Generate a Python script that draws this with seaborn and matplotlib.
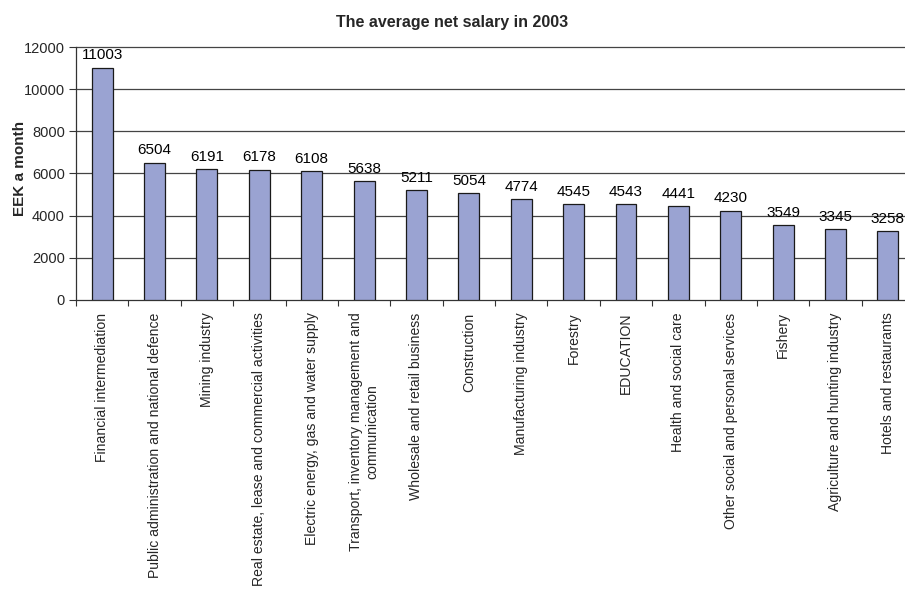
import matplotlib
matplotlib.use("Agg")
import matplotlib.pyplot as plt
import seaborn as sns
import pandas as pd
import numpy as np

categories = [
    "Financial intermediation",
    "Public administration and national defence",
    "Mining industry",
    "Real estate, lease and commercial activities",
    "Electric energy, gas and water supply",
    "Transport, inventory management and\ncommunication",
    "Wholesale and retail business",
    "Construction",
    "Manufacturing industry",
    "Forestry",
    "EDUCATION",
    "Health and social care",
    "Other social and personal services",
    "Fishery",
    "Agriculture and hunting industry",
    "Hotels and restaurants",
]
values = [11003, 6504, 6191, 6178, 6108, 5638, 5211, 5054, 4774, 4545, 4543, 4441, 4230, 3549, 3345, 3258]
yticks = [0, 2000, 4000, 6000, 8000, 10000, 12000]

sns.set_theme(style="white")
plt.rcParams['font.family'] = ['Liberation Sans', 'DejaVu Sans']

df = pd.DataFrame({"cat": categories, "val": values})

fig = plt.figure(figsize=(9.05, 5.95), dpi=100)
ax = fig.add_axes([0.084, 0.496, 0.926, 0.425])

sns.barplot(data=df, x="cat", y="val", color="#9AA3D2", width=0.40,
            edgecolor="#1a1a1a", linewidth=0.9, saturation=1, ax=ax, zorder=3)

ax.set_ylim(0, 12000)
ax.set_xlim(-0.5, len(categories) - 0.5)
ax.set_yticks(yticks)
ax.set_yticklabels([str(t) for t in yticks], fontsize=10.5)
for t in yticks[1:]:
    ax.axhline(t, color="#444444", linewidth=0.9, zorder=1, clip_on=False)

for c in ax.containers:
    ax.bar_label(c, labels=[str(v) for v in values], padding=4, fontsize=11, color="black")

ax.set_xticks(range(len(categories)))
ax.set_xticklabels(categories, rotation=90, fontsize=10.1, va="top", ha="center", multialignment="center")
ax.set_xticks(np.arange(-0.5, len(categories), 1), minor=True)
ax.tick_params(axis="x", which="major", length=0, pad=9)
ax.tick_params(axis="x", which="minor", length=4, direction="out", color="#333333", width=0.8, bottom=True)
ax.tick_params(axis="y", length=5, direction="out", color="#333333", width=0.8, left=True, pad=3)

for s in ["top", "right"]:
    ax.spines[s].set_visible(False)
for s in ["left", "bottom"]:
    ax.spines[s].set_color("#333333")
    ax.spines[s].set_linewidth(0.9)

ax.set_xlabel("")
ax.set_ylabel("EEK a month", fontsize=11, fontweight="bold")
ax.yaxis.set_label_coords(-0.058, 0.52)
fig.suptitle("The average net salary in 2003", fontsize=11.5, fontweight="bold", y=0.975, x=0.5)

fig.savefig("out.png", dpi=100)
